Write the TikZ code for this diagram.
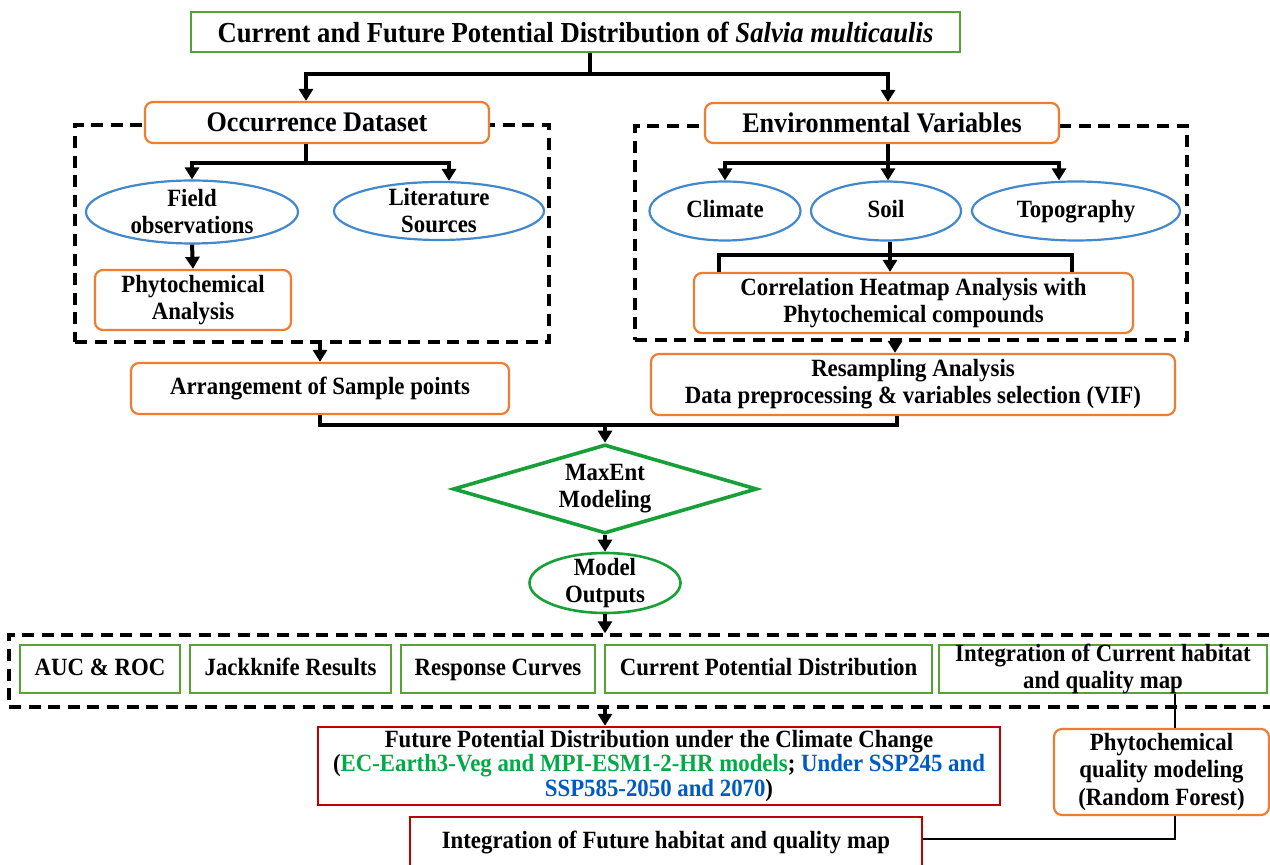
\documentclass[tikz,border=0pt]{standalone}
\usepackage{fontspec}
\setmainfont{Liberation Serif}[FakeStretch=0.92]
\usetikzlibrary{arrows.meta,shapes.geometric}
\definecolor{bgreen}{RGB}{84,163,52}
\definecolor{dgreen}{RGB}{24,160,56}
\definecolor{borange}{RGB}{237,125,49}
\definecolor{bblue}{RGB}{66,136,206}
\definecolor{bred}{RGB}{192,0,0}
\definecolor{tgreen}{RGB}{0,170,70}
\definecolor{tblue}{RGB}{0,90,196}
\tikzset{
  body/.style={font=\fontsize{12.4}{13.5}\selectfont\bfseries},
  head/.style={font=\fontsize{14.2}{16}\selectfont\bfseries},
  oneline/.style={text height=9pt, text depth=2.8pt},
  gbox/.style={body, draw=bgreen, line width=1pt, fill=white, inner sep=0pt, align=center},
  obox/.style={body, draw=borange, line width=1.1pt, rounded corners=4pt, fill=white, inner sep=0pt, align=center},
  rbox/.style={body, draw=bred, line width=1.2pt, fill=white, inner sep=0pt, align=center},
  ell/.style={body, ellipse, draw=bblue, line width=1.1pt, fill=white, inner sep=0pt, align=center},
  dashbox/.style={draw=black, line width=1.7pt, dash pattern=on 6pt off 3.8pt, inner sep=0pt},
  conn/.style={draw=black, line width=2pt},
  arr/.style={conn, -{Triangle[width=7pt,length=6pt]}},
  thinconn/.style={draw=black, line width=1.2pt}
}
\begin{document}
\begin{tikzpicture}[x=0.5pt,y=-0.5pt]
\useasboundingbox (0,0) rectangle (1270,865);
\fill[white] (0,0) rectangle (1270,865);

% dashed group frames
\node[dashbox, minimum width=237pt, minimum height=108.5pt] (dl) at (312,233.5) {};
\node[dashbox, minimum width=276pt, minimum height=107pt] (dr) at (911,233) {};
\node[dashbox, minimum width=640pt, minimum height=36pt] (db) at (649,671) {};

% title
\node[gbox, font=\fontsize{14.5}{16}\selectfont\bfseries, minimum width=384.5pt, minimum height=20pt] (title) at (575.5,32)
  {Current and Future Potential Distribution of \textit{Salvia multicaulis}};

% occurrence side
\node[obox, head, minimum width=172pt, minimum height=20.5pt] (occ) at (317,122.5) {Occurrence Dataset};
\node[ell, inner sep=-4pt, minimum width=106pt, minimum height=31.5pt] (field) at (192,212) {Field\\observations};
\node[ell, inner sep=-4pt, minimum width=105pt, minimum height=29pt] (lit) at (439,211) {Literature\\Sources};
\node[obox, minimum width=98pt, minimum height=30pt] (phy) at (193,300) {Phytochemical\\Analysis};

% environmental side
\node[obox, head, minimum width=177pt, minimum height=20pt] (env) at (882,123) {Environmental Variables};
\node[ell, oneline, minimum width=75.5pt, minimum height=29.5pt] (cli) at (725,211) {Climate};
\node[ell, oneline, minimum width=75pt, minimum height=29.5pt] (soil) at (886,211) {Soil};
\node[ell, oneline, minimum width=104pt, minimum height=29.5pt] (topo) at (1076,211) {Topography};
\node[obox, minimum width=219.5pt, minimum height=30pt] (corr) at (913.5,303) {Correlation Heatmap Analysis with\\Phytochemical compounds};

% middle
\node[obox, oneline, minimum width=189pt, minimum height=25.5pt] (arr) at (320,388.5) {Arrangement of Sample points};
\node[obox, minimum width=262pt, minimum height=30.5pt] (res) at (913,384.5) {Resampling Analysis\\Data preprocessing \& variables selection (VIF)};
\node[body, diamond, aspect=3.4, draw=dgreen, line width=1.8pt, fill=white, minimum width=152pt, minimum height=44.5pt, inner sep=0pt, align=center] (me) at (605,489) {MaxEnt\\Modeling};
\node[body, ellipse, draw=dgreen, line width=1.3pt, fill=white, minimum width=75.5pt, minimum height=30pt, inner sep=-4pt, align=center] (mo) at (605,583) {Model\\Outputs};

% outputs row
\node[gbox, oneline, minimum width=80pt, minimum height=24pt] (auc) at (100,669) {AUC \& ROC};
\node[gbox, oneline, minimum width=100.5pt, minimum height=24pt] (jack) at (290.5,669) {Jackknife Results};
\node[gbox, oneline, minimum width=97pt, minimum height=24pt] (resp) at (498,669) {Response Curves};
\node[gbox, oneline, minimum width=163.5pt, minimum height=24pt] (curp) at (768.5,669) {Current Potential Distribution};
\node[gbox, inner ysep=-2pt, minimum width=164pt, minimum height=24pt] (intc) at (1103,669) {Integration of Current habitat\\and quality map};

% future
\node[rbox, font=\fontsize{12.4}{12.2}\selectfont\bfseries, minimum width=341pt, minimum height=39pt] (fut) at (659,766)
  {Future Potential Distribution under the Climate Change\\
   (\textcolor{tgreen}{EC-Earth3-Veg and MPI-ESM1-2-HR models}; \textcolor{tblue}{Under SSP245 and}\\
   \textcolor{tblue}{SSP585-2050 and 2070})};
\node[rbox, oneline, minimum width=256pt, minimum height=25.5pt] (intf) at (666,842.5) {Integration of Future habitat and quality map};
\node[obox, font=\fontsize{12.4}{13.7}\selectfont\bfseries, minimum width=107.5pt, minimum height=43pt] (phq) at (1161.5,772) {Phytochemical\\quality modeling\\(Random Forest)};

% connectors
\coordinate (j1) at (590,74);
\draw[conn] (title.south -| j1) -- (j1);
\draw[arr] (j1) -| ([xshift=-5.5pt]occ.north);
\draw[arr] (j1) -| ([xshift=3pt]env.north);

\coordinate (j2) at (306,163);
\draw[conn] (occ.south -| j2) -- (j2);
\draw[arr] (j2) -| (field.north);
\draw[arr] (j2) -| ([xshift=5pt]lit.north);
\draw[arr] (field.south) -- (phy.north);

\coordinate (j3) at (888,163);
\draw[conn] (env.south -| j3) -- (j3);
\draw[arr] (j3) -| (cli.north);
\draw[arr] (j3) -- (soil.north -| j3);
\draw[arr] (j3) -| ([xshift=-8.5pt]topo.north);

\coordinate (b1) at (719,255);
\coordinate (b2) at (1072,255);
\draw[conn] (b1 |- corr.north) -- (b1) -- (b2) -- (b2 |- corr.north);
\draw[arr] ([xshift=2pt]soil.south) -- ([xshift=2pt]soil.south |- corr.north);

\draw[arr] (dl.south -| arr.north) -- (arr.north);
\coordinate (j4) at (895,342);
\draw[arr] (dr.south -| j4) -- (res.north -| j4);

\coordinate (j5) at (605,425);
\draw[conn] (arr.south) |- (j5);
\draw[conn] ([xshift=-8pt]res.south) |- (j5);
\draw[arr] (j5) -- (me.north);
\draw[arr] (me.south) -- (mo.north);
\draw[arr] (mo.south) -- (db.north -| mo.south);
\draw[arr] (db.south -| mo.south) -- (fut.north -| mo.south);

\coordinate (j6) at (1175,839);
\draw[thinconn] (intc.south -| j6) -- (phq.north -| j6);
\draw[thinconn] (phq.south -| j6) -- (j6) -- (intf.east |- j6);
\end{tikzpicture}
\end{document}
